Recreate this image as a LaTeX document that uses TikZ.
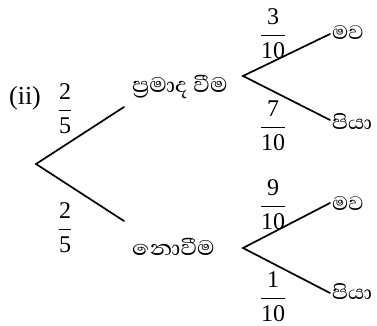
\documentclass[tikz,border=0pt]{standalone}
\usepackage{amsmath}
\usepackage{fontspec}
\usepackage{tikz}
\setmainfont{Liberation Serif}
\newfontfamily\sinhalafont[Script=Sinhala,FakeStretch=1.08]{Abhaya Libre}
\newcommand{\pfrac}[2]{$\dfrac{\text{#1}}{\text{#2}}$}
\tikzset{
  branch/.style={line width=1.7pt,line cap=round},
  probfrac/.style={inner sep=1pt,font=\fontsize{24}{30}\selectfont},
  outcome/.style={inner sep=1pt,anchor=west,font=\fontsize{25}{30}\selectfont\sinhalafont},
  event/.style={inner sep=1pt,anchor=west,font=\fontsize{27}{32}\selectfont\sinhalafont}
}
\begin{document}
\begin{tikzpicture}[x=1pt,y=-1pt]
  \useasboundingbox (0,0) rectangle (377,326);
  % first stage
  \coordinate (root) at (36,164);
  \coordinate (upEnd) at (124,107);
  \coordinate (loEnd) at (124,221);
  \draw[branch] (upEnd) -- (root) -- (loEnd);
  \node[font=\fontsize{26}{30}\selectfont] (part) at (25,98) {(ii)};
  \node[probfrac] (pUp) at (65,109) {\pfrac{2}{5}};
  \node[probfrac] (pLo) at (65,228) {\pfrac{2}{5}};
  \node[event] (evUp) at (131,87) {ප්^^^^200dරමාද වීම};
  \node[event] (evLo) at (131,247) {නොවීම};
  % second stage, upper
  \coordinate (upRoot) at (243,76);
  \coordinate (upA) at (330,34);
  \coordinate (upB) at (330,120);
  \draw[branch] (upA) -- (upRoot) -- (upB);
  \node[probfrac] (pUpA) at (273,34) {\pfrac{3}{10}};
  \node[probfrac] (pUpB) at (273,126) {\pfrac{7}{10}};
  \node[outcome] (oUpA) at (331,33) {මව};
  \node[outcome] (oUpB) at (331,122) {පියා};
  % second stage, lower
  \coordinate (loRoot) at (243,248);
  \coordinate (loA) at (330,203);
  \coordinate (loB) at (330,293);
  \draw[branch] (loA) -- (loRoot) -- (loB);
  \node[probfrac] (pLoA) at (273,205) {\pfrac{9}{10}};
  \node[probfrac] (pLoB) at (273,297) {\pfrac{1}{10}};
  \node[outcome] (oLoA) at (331,204) {මව};
  \node[outcome] (oLoB) at (331,292) {පියා};
\end{tikzpicture}
\end{document}
